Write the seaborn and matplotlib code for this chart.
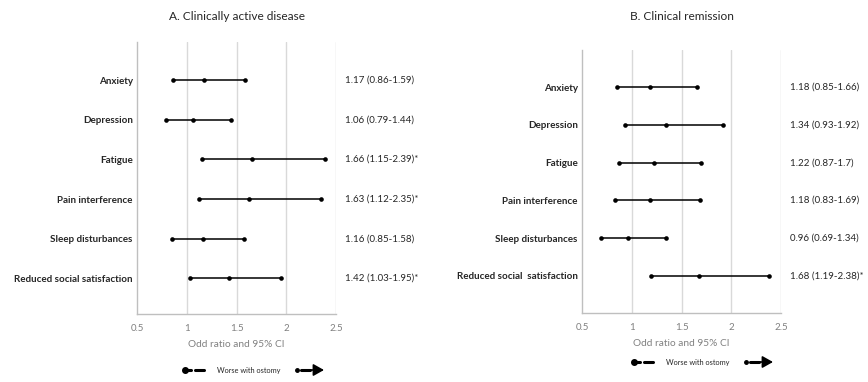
import numpy as np
import pandas as pd
import seaborn as sns
import matplotlib.pyplot as plt
from matplotlib.lines import Line2D

sns.set_style("white")
plt.rcParams['font.family'] = ['Lato', 'DejaVu Sans']

# data
measures_a = ['Anxiety', 'Depression', 'Fatigue', 'Pain interference',
              'Sleep disturbances', 'Reduced social satisfaction']
or_a = [1.17, 1.06, 1.66, 1.63, 1.16, 1.42]
low_a = [0.86, 0.79, 1.15, 1.12, 0.85, 1.03]
high_a = [1.59, 1.44, 2.39, 2.35, 1.58, 1.95]
sig_a = [False, False, True, True, False, True]

measures_b = ['Anxiety', 'Depression', 'Fatigue', 'Pain interference',
              'Sleep disturbances', 'Reduced social  satisfaction']
or_b = [1.18, 1.34, 1.22, 1.18, 0.96, 1.68]
low_b = [0.85, 0.93, 0.87, 0.83, 0.69, 1.19]
high_b = [1.66, 1.92, 1.7, 1.69, 1.34, 2.38]
sig_b = [False, False, False, False, False, True]

xticks = [0.5, 1, 1.5, 2, 2.5]
xtick_labels = ['0.5', '1', '1.5', '2', '2.5']

fig = plt.figure(figsize=(8.68, 3.82), dpi=100)

grid_c = '#d9d9d9'
tick_c = '#808080'


def forest(ax, measures, ors, lows, highs, sigs, title, ylim, title_y):
    df = pd.DataFrame({'measure': measures, 'OR': ors, 'low': lows, 'high': highs})
    df['pos'] = np.arange(len(df))
    ax.hlines(df['pos'], df['low'], df['high'], color='black', lw=1.1, zorder=3)
    pts = pd.concat([
        df[['pos', 'low']].rename(columns={'low': 'x'}),
        df[['pos', 'OR']].rename(columns={'OR': 'x'}),
        df[['pos', 'high']].rename(columns={'high': 'x'}),
    ])
    sns.scatterplot(data=pts, x='x', y='pos', ax=ax, color='black', s=11,
                    edgecolor='black', linewidth=0, zorder=4, legend=False)
    ax.set_xlim(0.5, 2.5)
    ax.set_ylim(*ylim)
    ax.set_xticks(xticks)
    ax.set_xticklabels(xtick_labels, color=tick_c, fontsize=7)
    ax.set_yticks(df['pos'])
    ax.set_yticklabels(df['measure'], fontweight='bold', fontsize=7.1)
    ax.tick_params(axis='x', length=0, pad=7)
    ax.tick_params(axis='y', length=0, pad=3)
    for x in xticks[1:]:
        ax.axvline(x, color=grid_c, lw=1, zorder=1)
    for side in ['top', 'right']:
        ax.spines[side].set_visible(False)
    for side in ['left', 'bottom']:
        ax.spines[side].set_color('#bfbfbf')
        ax.spines[side].set_linewidth(1)
    ax.set_xlabel('Odd ratio and 95% CI', color=tick_c, fontsize=7.3, labelpad=5)
    ax.set_ylabel('')
    for p, o, l, h, s in zip(df['pos'], ors, lows, highs, sigs):
        txt = f'{o:g} ({l:g}-{h:g})' + ('*' if s else '')
        ax.text(1.045, p, txt, transform=ax.get_yaxis_transform(),
                va='center', ha='left', fontsize=7.0)
    fig.text((ax.get_position().x0 + ax.get_position().x1) / 2, title_y, title,
             ha='center', va='center', fontsize=8.6)


ax_a = fig.add_axes([137 / 868, 1 - 314 / 382, 199 / 868, 272 / 382])
forest(ax_a, measures_a, or_a, low_a, high_a, sig_a,
       'A. Clinically active disease', (5.9, -0.96), 1 - 16 / 382)

ax_b = fig.add_axes([582 / 868, 1 - 313 / 382, 199 / 868, 263 / 382])
forest(ax_b, measures_b, or_b, low_b, high_b, sig_b,
       'B. Clinical remission', (5.98, -0.98), 1 - 16 / 382)

# legend glyphs drawn in pixel space
lg = fig.add_axes([0, 0, 1, 1])
lg.set_xlim(0, 868)
lg.set_ylim(382, 0)
lg.axis('off')


def arrow_legend(x0, y, tx):
    lg.add_line(Line2D([x0 + 2, x0 + 8], [y, y], color='black', lw=2.2))
    lg.add_line(Line2D([x0 + 12, x0 + 21], [y, y], color='black', lw=2.2))
    lg.plot([x0 + 2], [y], 'o', color='black', ms=4)
    lg.text(tx, y, 'Worse with ostomy', fontsize=5.3, va='center', ha='left')
    rx = x0 + 114
    lg.plot([rx], [y], 'o', color='black', ms=2.5)
    lg.add_line(Line2D([rx + 4, rx + 13], [y, y], color='black', lw=2.2))
    lg.annotate('', xy=(rx + 27, y), xytext=(rx + 12, y),
                arrowprops=dict(arrowstyle='-|>,head_length=0.8,head_width=0.45',
                                color='black', lw=1.2, shrinkA=0, shrinkB=0,
                                mutation_scale=8))


arrow_legend(183, 370, 217)
arrow_legend(632, 362, 666)

fig.savefig('out.png', dpi=100)
